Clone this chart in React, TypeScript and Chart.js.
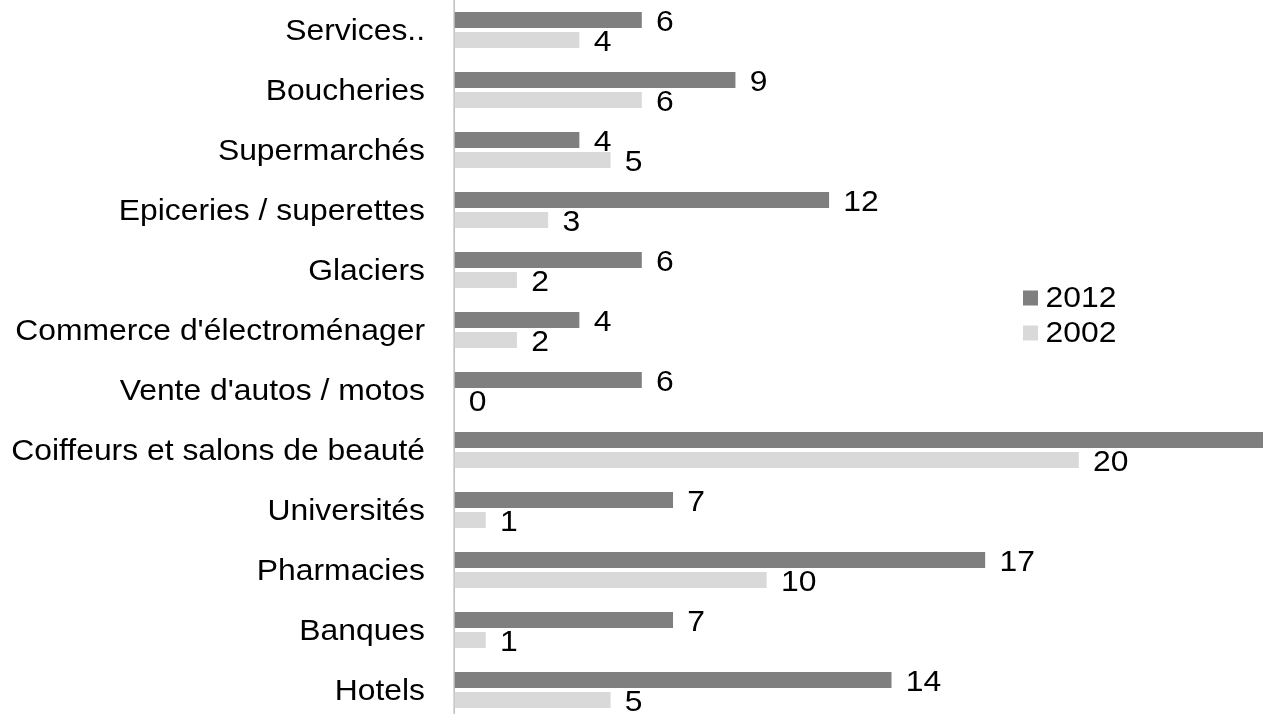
import React, { useEffect, useRef } from "react";
import { Chart, registerables } from "chart.js";

Chart.register(...registerables);

const categories = [
  "Services..",
  "Boucheries",
  "Supermarchés",
  "Epiceries / superettes",
  "Glaciers",
  "Commerce d'électroménager",
  "Vente d'autos / motos",
  "Coiffeurs et salons de beauté",
  "Universités",
  "Pharmacies",
  "Banques",
  "Hotels",
];
const values2012 = [6, 9, 4, 12, 6, 4, 6, 28, 7, 17, 7, 14];
const values2002 = [4, 6, 5, 3, 2, 2, 0, 20, 1, 10, 1, 5];
const seriesNames = ["2012", "2002"];
const seriesColors = ["#7f7f7f", "#d9d9d9"];
const axisMin = 0;
const axisMax = 25.9;

const FULL_W = 1263;
const FULL_H = 720;
const LOGICAL_W = 1150;
const SX = FULL_W / LOGICAL_W;
const AXIS_X = 454.5;
const LABEL_RIGHT = 425;
const FONT = "'Liberation Sans', Arial, Helvetica, sans-serif";
const FONT_SIZE = 29;

export default function App() {
  const ref = useRef<HTMLCanvasElement>(null);

  useEffect(() => {
    const canvas = ref.current as HTMLCanvasElement;
    canvas.width = LOGICAL_W;
    canvas.height = FULL_H;

    const stretchPlugin = {
      id: "stretchAndLabels",
      beforeDraw(chart: any) {
        const ctx = chart.ctx;
        ctx.save();
        ctx.setTransform(SX, 0, 0, 1, 0, 0);
      },
      afterDatasetsDraw(chart: any) {
        const ctx = chart.ctx;
        ctx.save();
        ctx.font = `${FONT_SIZE}px ${FONT}`;
        ctx.fillStyle = "#000";
        ctx.textAlign = "left";
        ctx.textBaseline = "middle";
        chart.data.datasets.forEach((ds: any, di: number) => {
          const meta = chart.getDatasetMeta(di);
          meta.data.forEach((el: any, i: number) => {
            const v = ds.data[i] as number;
            if (v > axisMax) return;
            ctx.fillText(String(v), el.x + 13, el.y + 3);
          });
        });
        ctx.restore();
      },
      afterDraw(chart: any) {
        const ctx = chart.ctx;
        ctx.save();
        ctx.font = `${FONT_SIZE}px ${FONT}`;
        ctx.textAlign = "left";
        ctx.textBaseline = "middle";
        const boxLeft = 1023 / SX;
        const boxW = 15 / SX;
        const boxH = 15;
        const textX = 1045.5 / SX;
        const rowY = [298, 333];
        chart.data.datasets.forEach((ds: any, di: number) => {
          const y = rowY[di];
          ctx.fillStyle = ds.backgroundColor;
          ctx.fillRect(boxLeft, y - boxH / 2, boxW, boxH);
          ctx.fillStyle = "#000";
          ctx.fillText(ds.label, textX, y + 1);
        });
        ctx.restore();
        ctx.restore();
      },
    };

    const chart = new Chart(canvas, {
      type: "bar",
      data: {
        labels: categories,
        datasets: [
          {
            label: seriesNames[0],
            data: values2012,
            backgroundColor: seriesColors[0],
            borderWidth: 0,
            categoryPercentage: 0.6667,
            barPercentage: 0.8,
          },
          {
            label: seriesNames[1],
            data: values2002,
            backgroundColor: seriesColors[1],
            borderWidth: 0,
            categoryPercentage: 0.6667,
            barPercentage: 0.8,
          },
        ],
      },
      options: {
        indexAxis: "y",
        responsive: false,
        maintainAspectRatio: false,
        animation: false,
        devicePixelRatio: 1,
        events: [],
        layout: { padding: 0 },
        plugins: {
          legend: { display: false },
          tooltip: { enabled: false },
        },
        scales: {
          x: {
            display: false,
            min: axisMin,
            max: axisMax,
          },
          y: {
            position: "left",
            grid: { display: false, drawTicks: false },
            border: { display: true, color: "#a6a6a6", width: 1 },
            ticks: {
              color: "#000",
              font: { family: FONT, size: FONT_SIZE, lineHeight: "4px" },
              padding: (AXIS_X - LABEL_RIGHT) / SX,
              autoSkip: false,
              callback(this: any, value: any) {
                return ["", this.getLabelForValue(value)];
              },
            },
            afterFit(scale: any) {
              scale.width = AXIS_X / SX;
              scale.paddingTop = 0;
              scale.paddingBottom = 0;
            },
          },
        },
      },
      plugins: [stretchPlugin],
    } as any);

    canvas.width = FULL_W;
    canvas.height = FULL_H;
    canvas.style.width = FULL_W + "px";
    canvas.style.height = FULL_H + "px";
    chart.draw();

    return () => {
      chart.destroy();
    };
  }, []);

  return (
    <div
      style={{
        position: "fixed",
        left: 0,
        top: 0,
        width: 1263,
        height: 714,
        overflow: "hidden",
        background: "#fff",
      }}
    >
      <canvas ref={ref} />
    </div>
  );
}
